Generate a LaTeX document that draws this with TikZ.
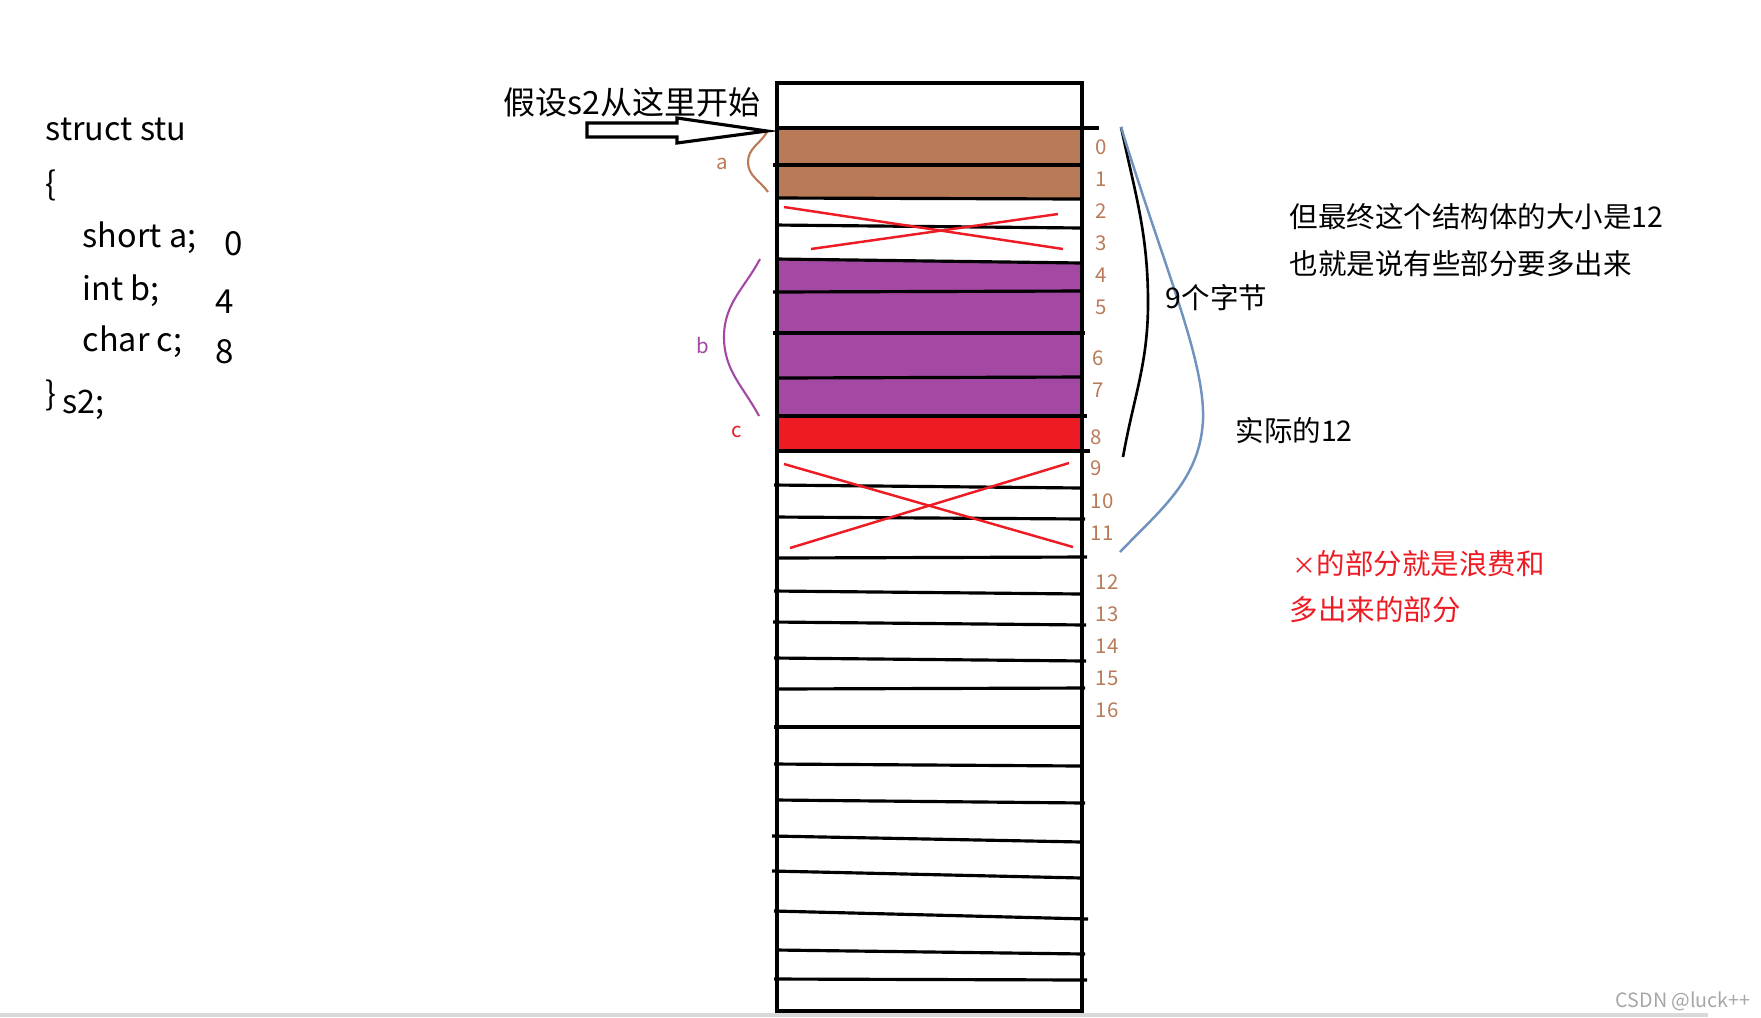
\documentclass[tikz,border=0pt]{standalone}
\usepackage{fontspec}
\setmainfont{Noto Sans CJK SC}
\definecolor{abrown}{HTML}{B97A57}
\definecolor{bpurple}{HTML}{A349A4}
\definecolor{cred}{HTML}{ED1C24}
\definecolor{sizeblue}{HTML}{7092BE}
\tikzset{
  cell/.style={line width=0.9pt},
  cross/.style={cred, line width=0.7pt},
  idx/.style={text=abrown, inner sep=0pt, font=\fontsize{5.8}{7}\selectfont},
  tag/.style={inner sep=0pt, font=\fontsize{5.8}{7}\selectfont},
  note/.style={anchor=west, inner sep=0pt, font=\fontsize{8.1}{10}\selectfont},
  code/.style={anchor=base west, inner sep=0pt, font=\fontsize{9.2}{12}\selectfont},
  offs/.style={anchor=base west, inner sep=0pt, font=\fontsize{9.4}{11}\selectfont},
}
\begin{document}
\begin{tikzpicture}[x=0.01cm, y=-0.01cm]
\useasboundingbox (0,0) rectangle (1761,1017);

% the struct
\node[code] (head) at (45,140) {struct stu};
\node[code] (open) at (45,195) {\{};
\node[code] (fa) at (82,247) {short a;};
\node[code] (fb) at (82,300) {int b;};
\node[code] (fc) at (82,351) {char c;};
\node[code] (close) at (45,405) {\}};
\node[code] (var) at (62,413) {s2;};
\node[offs] (oa) at (224,255) {0};
\node[offs] (ob) at (215,313) {4};
\node[offs] (oc) at (215,363) {8};

% memory
\fill[abrown] (777,128) rectangle (1082,198);
\fill[bpurple] (777,259) -- (1082,263) -- (1082,416) -- (777,416) -- cycle;
\fill[cred] (777,416) rectangle (1082,451);

\draw[cell] (777,83) rectangle (1082,1011);
\draw[cell] (777,128) -- (1099,128);
\draw[cell] (773,165) -- (1082,165);
\draw[cell] (777,198) -- (1082,199);
\draw[cell] (775,225) -- (1082,228);
\draw[cell] (777,259) -- (1082,263);
\draw[cell] (773,292) -- (1082,291);
\draw[cell] (773,333) -- (1085,333);
\draw[cell] (777,378) -- (1082,377);
\draw[cell] (775,416) -- (1087,416);
\draw[cell] (775,451) -- (1090,451);
\draw[cell] (774,485) -- (1082,488);
\draw[cell] (775,517) -- (1085,519);
\draw[cell] (777,558) -- (1087,557);
\draw[cell] (774,591) -- (1082,594);
\draw[cell] (773,622) -- (1086,625);
\draw[cell] (774,658) -- (1086,661);
\draw[cell] (775,689) -- (1085,688);
\draw[cell] (774,727) -- (1082,727);
\draw[cell] (774,764) -- (1082,766);
\draw[cell] (777,800) -- (1085,803);
\draw[cell] (772,836) -- (1082,842);
\draw[cell] (772,871) -- (1082,878);
\draw[cell] (774,911) -- (1088,919);
\draw[cell] (777,950) -- (1085,954);
\draw[cell] (774,979) -- (1087,980);

\draw[cross] (784,207) -- (1063,249);
\draw[cross] (811,249) -- (1058,214);
\draw[cross] (784,464) -- (1073,547);
\draw[cross] (790,548) -- (1069,463);

\node[idx] (n0) at (1101,147) {0};
\node[idx] (n1) at (1101,179) {1};
\node[idx] (n2) at (1101,211) {2};
\node[idx] (n3) at (1101,243) {3};
\node[idx] (n4) at (1101,275) {4};
\node[idx] (n5) at (1101,307) {5};
\node[idx] (n6) at (1098,358) {6};
\node[idx] (n7) at (1098,390) {7};
\node[idx] (n8) at (1096,437) {8};
\node[idx] (n9) at (1096,468) {9};
\node[idx] (n10) at (1102,501) {10};
\node[idx] (n11) at (1102,533) {11};
\node[idx] (n12) at (1107,582) {12};
\node[idx] (n13) at (1107,614) {13};
\node[idx] (n14) at (1107,646) {14};
\node[idx] (n15) at (1107,678) {15};
\node[idx] (n16) at (1107,710) {16};

% members
\draw[abrown, line width=0.6pt] (767,132) to[out=-120,in=90] (748,162) to[out=-90,in=125] (768,192);
\node[tag, text=abrown] (ma) at (722,164) {a};
\draw[bpurple, line width=0.6pt] (760,259) to[out=-118,in=90] (724,337) to[out=-90,in=118] (759,416);
\node[tag, text=bpurple] (mb) at (703,345) {b};
\node[tag, text=cred] (mc) at (737,432) {c};

% start arrow
\coordinate (start) at (767,131);
\node[anchor=west, inner sep=0pt, font=\fontsize{9.1}{11}\selectfont] (hint) at (503,102) {假设s2从这里开始};
\draw[line width=0.9pt, fill=white] (587,123) -- (677,123) -- (677,118) -- (start)
  -- (677,143) -- (677,137) -- (587,137) -- cycle;

% sizes
\coordinate (top) at (1121,127);
\draw[line width=0.75pt] (top) to[out=-78,in=90] (1148,303) to[out=-90,in=80] (1123,457);
\draw[sizeblue, line width=0.7pt] (top) .. controls (1165,270) and (1205,360) .. (1203,420)
  .. controls (1200,480) and (1160,510) .. (1120,552);
\node[note] (nine) at (1165,298) {9个字节};
\node[note] (real) at (1235,431) {实际的12};
\node[note] (total) at (1289,217) {但最终这个结构体的大小是12};
\node[note] (more) at (1289,264) {也就是说有些部分要多出来};
\node[note, text=cred] (waste) at (1292,564) {{\fontsize{6.8}{8}\selectfont ×}的部分就是浪费和};
\node[note, text=cred] (extra) at (1289,610) {多出来的部分};

\fill[gray!30] (0,1013) rectangle (1708,1017);
\node[anchor=west, inner sep=0pt, text=gray!70, font=\fontsize{5.6}{7}\selectfont] (mark) at (1615,1001) {CSDN @luck++};
\end{tikzpicture}
\end{document}
